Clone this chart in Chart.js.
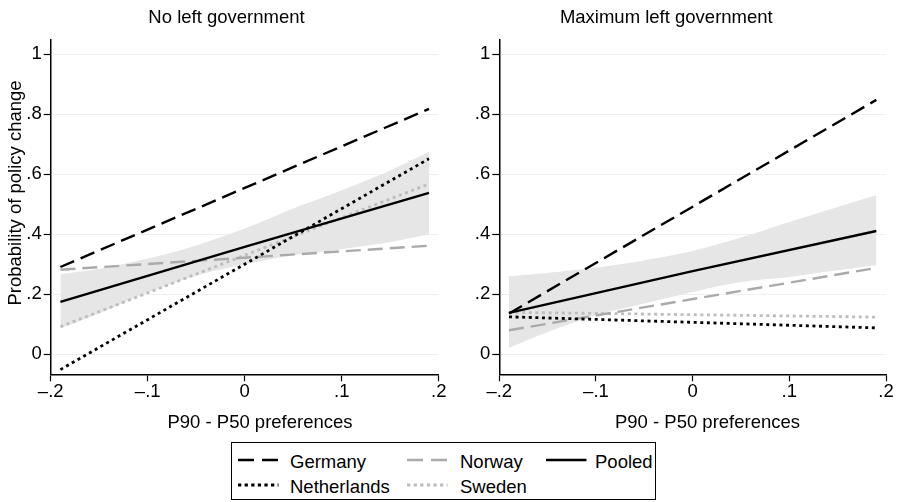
<!DOCTYPE html>
<html>
<head>
<meta charset="utf-8">
<title>Probability of policy change</title>
<script src="https://cdn.jsdelivr.net/npm/chart.js@4.4.1/dist/chart.umd.min.js"></script>
<style>
  html, body { margin: 0; padding: 0; background: #fff; }
  #page { position: relative; width: 900px; height: 502px; overflow: hidden;
          font-family: "Liberation Sans", Arial, Helvetica, sans-serif; color: #000; }
  .panel { position: absolute; top: 0; width: 450px; height: 440px; }
  #legend { position: absolute; left: 231px; top: 442px; width: 425px; height: 58px;
            border: 1px solid #000; box-sizing: border-box; }
  .key { position: absolute; }
  .label { position: absolute; font-size: 18.5px; line-height: 22px; white-space: nowrap; }
</style>
</head>
<body>
<div id="page">
  <canvas id="noLeft" class="panel" style="left:0" width="450" height="440"></canvas>
  <canvas id="maxLeft" class="panel" style="left:450px" width="450" height="440"></canvas>
  <div id="legend"></div>
</div>
<script>
// ---- data -------------------------------------------------------------
const seriesNames = ['Germany', 'Netherlands', 'Norway', 'Sweden', 'Pooled'];
const panelTitles = ['No left government', 'Maximum left government'];
const xAxisTitle = 'P90 - P50 preferences';
const yAxisTitle = 'Probability of policy change';

const xTicks = [-0.2, -0.1, 0, 0.1, 0.2];
const xTickLabels = ['\u2013.2', '\u2013.1', '0', '.1', '.2'];
const yTicks = [0, 0.2, 0.4, 0.6, 0.8, 1];
const yTickLabels = ['0', '.2', '.4', '.6', '.8', '1'];

const lineX = [-0.19, 0.19];
const pooledX = [-0.19, 0, 0.19];
const bandX = [-0.19, -0.15, -0.1, -0.05, 0, 0.05, 0.1, 0.15, 0.19];

// No left government
const germanyNoLeft = [0.291, 0.818];
const netherlandsNoLeft = [-0.051, 0.652];
const norwayNoLeft = [0.282, 0.362];
const swedenNoLeft = [0.092, 0.568];
const pooledNoLeft = [0.175, 0.358, 0.538];
const bandUpperNoLeft = [0.267, 0.285, 0.319, 0.363, 0.419, 0.486, 0.547, 0.613, 0.674];
const bandLowerNoLeft = [0.086, 0.136, 0.206, 0.262, 0.300, 0.330, 0.350, 0.374, 0.400];

// Maximum left government
const germanyMaxLeft = [0.136, 0.848];
const netherlandsMaxLeft = [0.125, 0.088];
const norwayMaxLeft = [0.080, 0.288];
const swedenMaxLeft = [0.140, 0.124];
const pooledMaxLeft = [0.138, 0.277, 0.411];
const bandUpperMaxLeft = [0.260, 0.271, 0.289, 0.313, 0.344, 0.389, 0.441, 0.491, 0.530];
const bandLowerMaxLeft = [0.021, 0.074, 0.130, 0.169, 0.208, 0.241, 0.258, 0.280, 0.297];

// ---- styles -----------------------------------------------------------
const FONT = '"Liberation Sans", Arial, Helvetica, sans-serif';
const FONT_SIZE = 18.5;
const seriesStyle = {
  Germany:     { color: '#000000', width: 2.4, dash: [15, 7],   keyDash: '16 8' },
  Netherlands: { color: '#000000', width: 2.8, dash: [3, 3.6],  keyDash: '3.3 3.3' },
  Norway:      { color: '#aaaaaa', width: 2.4, dash: [15, 7],   keyDash: '16 8' },
  Sweden:      { color: '#bdbdbd', width: 2.8, dash: [3, 3.6],  keyDash: '3.3 3.3' },
  Pooled:      { color: '#000000', width: 2.4, dash: [],        keyDash: '' }
};
const bandColor = '#e6e6e6';
const gridColor = '#efefef';

Chart.defaults.font.family = FONT;
Chart.defaults.font.size = FONT_SIZE;
Chart.defaults.color = '#000';

const pts = (xs, ys) => xs.map((x, i) => ({ x: x, y: ys[i] }));

// panel titles and axis titles drawn at fixed spots of each canvas
const panelText = {
  id: 'panelText',
  afterDraw(chart, args, o) {
    const c = chart.ctx;
    c.save();
    c.fillStyle = '#000';
    c.font = FONT_SIZE + 'px ' + FONT;
    c.textAlign = 'center';
    c.textBaseline = 'alphabetic';
    c.fillText(o.title, o.titleX, o.titleY);
    c.fillText(o.xTitle, o.xTitleX, o.xTitleY);
    if (o.yTitle) {
      c.translate(o.yTitleX, o.yTitleY);
      c.rotate(-Math.PI / 2);
      c.fillText(o.yTitle, 0, 0);
    }
    c.restore();
  }
};

function lineSet(name, xs, ys, order) {
  const s = seriesStyle[name];
  return {
    label: name, data: pts(xs, ys),
    borderColor: s.color, borderWidth: s.width, borderDash: s.dash,
    borderCapStyle: 'butt', pointRadius: 0, tension: 0, fill: false, order: order
  };
}

function makePanel(id, p) {
  const datasets = [
    lineSet('Pooled', pooledX, p.pooled, 0),
    lineSet('Germany', lineX, p.germany, 1),
    lineSet('Netherlands', lineX, p.netherlands, 2),
    lineSet('Norway', lineX, p.norway, 3),
    lineSet('Sweden', lineX, p.sweden, 4),
    { label: 'CI lower', data: pts(bandX, p.lower), borderWidth: 0, borderColor: 'rgba(0,0,0,0)',
      pointRadius: 0, tension: 0.3, fill: false, order: 10 },
    { label: 'CI upper', data: pts(bandX, p.upper), borderWidth: 0, borderColor: 'rgba(0,0,0,0)',
      backgroundColor: bandColor, pointRadius: 0, tension: 0.3, fill: '-1', order: 10 }
  ];
  return new Chart(document.getElementById(id), {
    type: 'line',
    data: { datasets: datasets },
    plugins: [panelText],
    options: {
      responsive: false, animation: false, devicePixelRatio: 1,
      layout: { padding: { left: 0, top: p.top, right: p.right, bottom: 0 } },
      plugins: {
        legend: { display: false }, tooltip: { enabled: false }, title: { display: false },
        panelText: p.text
      },
      scales: {
        x: {
          type: 'linear', min: -0.2, max: 0.2,
          afterBuildTicks: s => { s.ticks = xTicks.map(v => ({ value: v })); },
          afterFit: s => { s.height = p.xAxisHeight; },
          ticks: { callback: (v, i) => xTickLabels[i], padding: 0, maxRotation: 0, autoSkip: false },
          grid: { drawOnChartArea: false, drawTicks: true, tickLength: 7, tickColor: '#000', tickWidth: 1.2 },
          border: { display: true, color: '#000', width: 1.5 }
        },
        y: {
          type: 'linear', min: -0.0667, max: 1.05,
          afterBuildTicks: s => { s.ticks = yTicks.map(v => ({ value: v })); },
          afterFit: s => { s.width = p.yAxisWidth; },
          ticks: { callback: (v, i) => yTickLabels[i], padding: 2, autoSkip: false },
          grid: { color: gridColor, lineWidth: 1, drawTicks: true, tickLength: 7, tickColor: '#000', tickWidth: 1.2 },
          border: { display: true, color: '#000', width: 1.5 }
        }
      }
    }
  });
}

makePanel('noLeft', {
  germany: germanyNoLeft, netherlands: netherlandsNoLeft, norway: norwayNoLeft,
  sweden: swedenNoLeft, pooled: pooledNoLeft, upper: bandUpperNoLeft, lower: bandLowerNoLeft,
  top: 39.3, right: 11.3, yAxisWidth: 50.7, xAxisHeight: 65.7,
  text: { title: panelTitles[0], titleX: 226.5, titleY: 22.7,
          xTitle: xAxisTitle, xTitleX: 260, xTitleY: 428.3,
          yTitle: yAxisTitle, yTitleX: 20.5, yTitleY: 193 }
});

makePanel('maxLeft', {
  germany: germanyMaxLeft, netherlands: netherlandsMaxLeft, norway: norwayMaxLeft,
  sweden: swedenMaxLeft, pooled: pooledMaxLeft, upper: bandUpperMaxLeft, lower: bandLowerMaxLeft,
  top: 39.3, right: 14, yAxisWidth: 49.3, xAxisHeight: 65.7,
  text: { title: panelTitles[1], titleX: 216.3, titleY: 22.7,
          xTitle: xAxisTitle, xTitleX: 257.5, xTitleY: 428.3 }
});

// ---- legend -----------------------------------------------------------
const legendOrder = ['Germany', 'Norway', 'Pooled', 'Netherlands', 'Sweden'];
const keyCols = [238.3, 406.7, 546.3];
const textCols = [290, 460, 595];
const rowLineY = [460, 485];
const rowTextTop = [450.6, 475.6];
const page = document.getElementById('page');
legendOrder.forEach((name, k) => {
  const row = k < 3 ? 0 : 1, col = k < 3 ? k : k - 3;
  const s = seriesStyle[name];
  const svgNS = 'http://www.w3.org/2000/svg';
  const svg = document.createElementNS(svgNS, 'svg');
  svg.setAttribute('class', 'key');
  svg.setAttribute('width', '41'); svg.setAttribute('height', '8');
  svg.style.left = keyCols[col] + 'px'; svg.style.top = (rowLineY[row] - 4) + 'px';
  const ln = document.createElementNS(svgNS, 'line');
  ln.setAttribute('x1', '0'); ln.setAttribute('x2', '40.5');
  ln.setAttribute('y1', '4'); ln.setAttribute('y2', '4');
  ln.setAttribute('stroke', s.color); ln.setAttribute('stroke-width', s.width);
  if (s.keyDash) ln.setAttribute('stroke-dasharray', s.keyDash);
  svg.appendChild(ln);
  page.appendChild(svg);
  const t = document.createElement('div');
  t.className = 'label';
  t.textContent = name;
  t.style.left = textCols[col] + 'px'; t.style.top = rowTextTop[row] + 'px';
  page.appendChild(t);
});
</script>
</body>
</html>
